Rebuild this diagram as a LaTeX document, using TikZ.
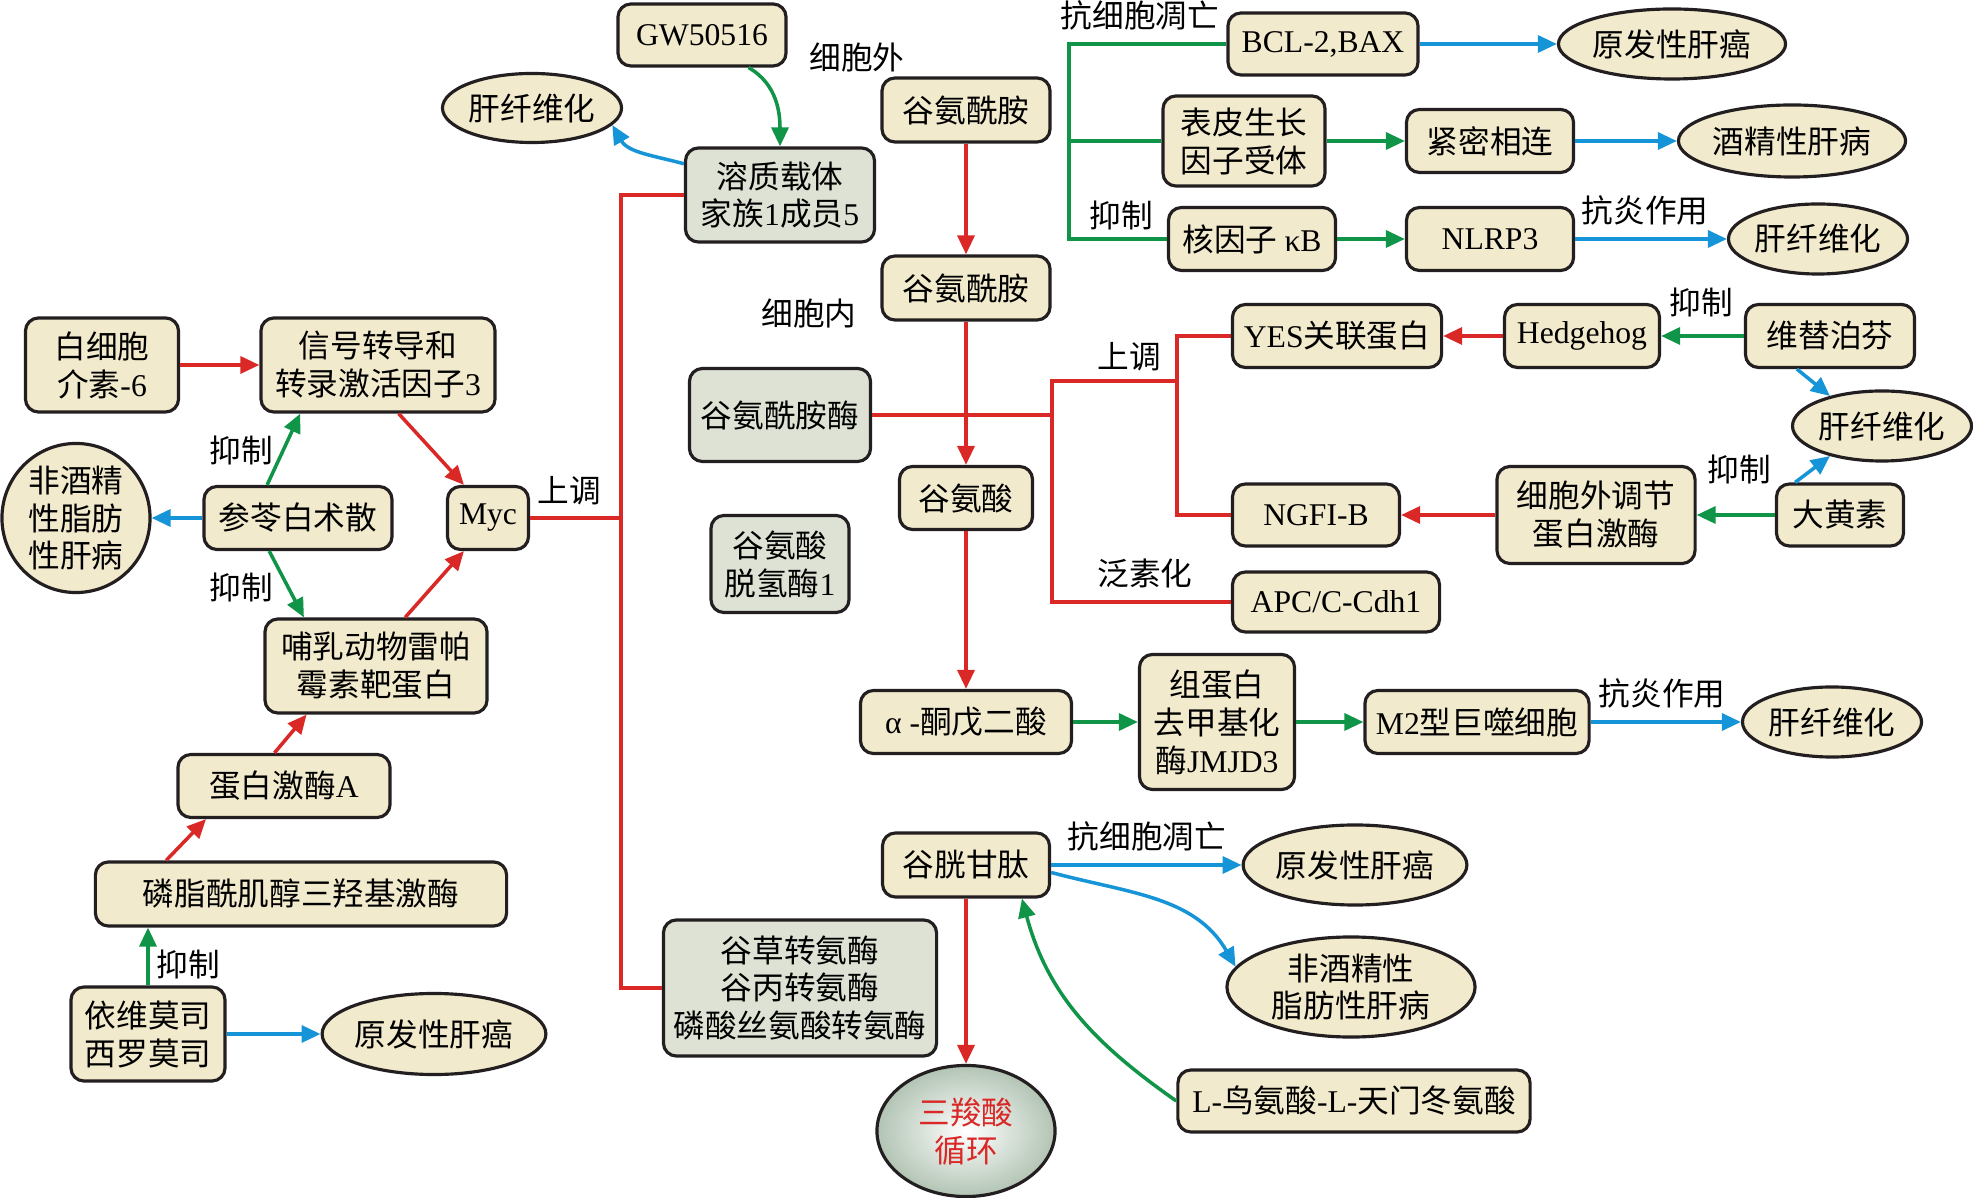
\documentclass[tikz,border=0pt]{standalone}
\usepackage{fontspec}
\setmainfont{Noto Sans CJK SC}
\newfontfamily\latinfont{Liberation Serif}
\newcommand{\tnr}[1]{{\latinfont #1}}
\usepackage{tikz, xcolor}
\usetikzlibrary{arrows.meta, shapes.geometric}

\definecolor{boxfill}{RGB}{242,234,204}
\definecolor{greyfill}{RGB}{222,226,212}
\definecolor{edgecol}{RGB}{35,31,32}
\definecolor{arrred}{RGB}{218,40,38}
\definecolor{arrgreen}{RGB}{16,148,72}
\definecolor{arrblue}{RGB}{22,148,216}
\definecolor{tcaouter}{RGB}{178,196,180}

\begin{document}
\begin{tikzpicture}
	[
		x=0.01cm, y=-0.01cm,
		font=\fontsize{9}{10.8}\selectfont,
		cbox/.style={draw=edgecol, fill=boxfill, line width=0.9pt, rounded corners=0.13cm, align=center, inner sep=0pt},
		gbox/.style={cbox, fill=greyfill},
		dis/.style={ellipse, draw=edgecol, fill=boxfill, line width=0.9pt, align=center, inner sep=0pt},
		lbl/.style={inner sep=0pt},
		flow/.style={line width=1pt, -{Triangle[length=0.19cm, width=0.17cm]}},
		redarr/.style={flow, arrred},
		greenarr/.style={flow, arrgreen},
		bluearr/.style={flow, arrblue},
		redline/.style={line width=1pt, arrred},
		greenline/.style={line width=1pt, arrgreen}
	]
	\useasboundingbox (0,0) rectangle (1973,1198);

	% Draw middle column.
	\node[cbox, minimum width=1.68cm, minimum height=0.62cm] (gw) at (702,35) {\tnr{GW50516}};
	\node[dis, minimum width=1.76cm, minimum height=0.69cm] (liverfib1) at (532,108) {肝纤维化};
	\node[gbox, minimum width=1.89cm, minimum height=0.94cm] (slc) at (780,195) {溶质载体\\家族\tnr{1}成员\tnr{5}};
	\node[cbox, minimum width=1.68cm, minimum height=0.64cm] (glnout) at (966,110) {谷氨酰胺};
	\node[cbox, minimum width=1.68cm, minimum height=0.64cm] (glnin) at (966,288) {谷氨酰胺};
	\node[gbox, minimum width=1.81cm, minimum height=0.93cm] (gls) at (780,415) {谷氨酰胺酶};
	\node[cbox, minimum width=1.33cm, minimum height=0.63cm] (glu) at (966,498) {谷氨酸};
	\node[gbox, minimum width=1.38cm, minimum height=0.97cm] (gdh) at (780,564) {谷氨酸\\脱氢酶\tnr{1}};
	\node[cbox, minimum width=2.11cm, minimum height=0.63cm] (akg) at (966,722) {\tnr{α -}酮戊二酸};
	\node[cbox, minimum width=1.55cm, minimum height=1.35cm] (jmjd) at (1217,722) {组蛋白\\去甲基化\\酶\tnr{JMJD3}};
	\node[cbox, minimum width=2.24cm, minimum height=0.63cm] (mac) at (1477,722) {\tnr{M2}型巨噬细胞};
	\node[dis, minimum width=1.75cm, minimum height=0.70cm] (liverfib4) at (1832,722) {肝纤维化};
	\node[cbox, minimum width=1.67cm, minimum height=0.64cm] (gsh) at (966,865) {谷胱甘肽};
	\node[dis, minimum width=1.98cm, minimum height=0.80cm] (hcc3) at (1355,865) {原发性肝癌};
	\node[dis, minimum width=2.48cm, minimum height=1.00cm] (nafld2) at (1351,987) {非酒精性\\脂肪性肝病};
	\node[gbox, minimum width=2.73cm, minimum height=1.36cm] (ast) at (800,988) {谷草转氨酶\\谷丙转氨酶\\磷酸丝氨酸转氨酶};
	\node[ellipse, draw=edgecol, line width=0.9pt, inner color=white, outer color=tcaouter, minimum width=1.78cm, minimum height=1.31cm, align=center, inner sep=0pt, text=arrred] (tca) at (966,1131) {三羧酸\\循环};
	\node[cbox, minimum width=3.52cm, minimum height=0.62cm] (lola) at (1354,1101) {\tnr{L-}鸟氨酸\tnr{-L-}天门冬氨酸};

	% Draw right part.
	\node[cbox, minimum width=1.90cm, minimum height=0.62cm] (bcl) at (1323,44) {\tnr{BCL-2,BAX}};
	\node[dis, minimum width=2.27cm, minimum height=0.70cm] (hcc1) at (1672,44) {原发性肝癌};
	\node[cbox, minimum width=1.62cm, minimum height=0.90cm] (egfr) at (1244,141) {表皮生长\\因子受体};
	\node[cbox, minimum width=1.67cm, minimum height=0.63cm] (tight) at (1490,141) {紧密相连};
	\node[dis, minimum width=2.27cm, minimum height=0.72cm] (ald) at (1792,141) {酒精性肝病};
	\node[cbox, minimum width=1.67cm, minimum height=0.63cm] (nfkb) at (1252,239) {核因子 \tnr{κB}};
	\node[cbox, minimum width=1.67cm, minimum height=0.63cm] (nlrp) at (1490,239) {\tnr{NLRP3}};
	\node[dis, minimum width=1.75cm, minimum height=0.70cm] (liverfib2) at (1818,239) {肝纤维化};
	\node[cbox, minimum width=2.09cm, minimum height=0.63cm] (yap) at (1337,336) {\tnr{YES}关联蛋白};
	\node[cbox, minimum width=1.55cm, minimum height=0.63cm] (hh) at (1582,336) {\tnr{Hedgehog}};
	\node[cbox, minimum width=1.69cm, minimum height=0.63cm] (vp) at (1830,336) {维替泊芬};
	\node[dis, minimum width=1.74cm, minimum height=0.70cm] (liverfib3) at (1882,426) {肝纤维化};
	\node[cbox, minimum width=1.67cm, minimum height=0.62cm] (ngfi) at (1316,515) {\tnr{NGFI-B}};
	\node[cbox, minimum width=1.98cm, minimum height=0.97cm] (erk) at (1596,515) {细胞外调节\\蛋白激酶};
	\node[cbox, minimum width=1.27cm, minimum height=0.62cm] (rhein) at (1840,515) {大黄素};
	\node[cbox, minimum width=2.07cm, minimum height=0.60cm] (apc) at (1336,602) {\tnr{APC/C-Cdh1}};

	% Draw left part.
	\node[cbox, minimum width=1.53cm, minimum height=0.94cm] (il6) at (102,365) {白细胞\\介素\tnr{-6}};
	\node[cbox, minimum width=2.34cm, minimum height=0.94cm] (stat3) at (378,365) {信号转导和\\转录激活因子\tnr{3}};
	\node[dis, minimum width=1.48cm, minimum height=1.49cm] (nafld1) at (76,518) {非酒精\\性脂肪\\性肝病};
	\node[cbox, minimum width=1.88cm, minimum height=0.63cm] (sljzs) at (298,518) {参苓白术散};
	\node[cbox, minimum width=0.81cm, minimum height=0.63cm] (myc) at (488,518) {\tnr{Myc}};
	\node[cbox, minimum width=2.22cm, minimum height=0.94cm] (mtor) at (376,666) {哺乳动物雷帕\\霉素靶蛋白};
	\node[cbox, minimum width=2.12cm, minimum height=0.63cm] (pka) at (284,786) {蛋白激酶\tnr{A}};
	\node[cbox, minimum width=4.11cm, minimum height=0.64cm] (pi3k) at (301,894) {磷脂酰肌醇三羟基激酶};
	\node[cbox, minimum width=1.54cm, minimum height=0.94cm] (evero) at (148,1034) {依维莫司\\西罗莫司};
	\node[dis, minimum width=1.98cm, minimum height=0.81cm] (hcc2) at (434,1034) {原发性肝癌};

	% Draw branch lines.
	\coordinate (rt) at (621,196);
	\draw[redline] (slc.west) -- (slc.west -| rt) |- (ast.west);
	\draw[redline] (myc) -- (myc -| rt);
	\coordinate (rj1) at (1052,381);
	\coordinate (rj2) at (1177,381);
	\draw[redline] (gls.east) -- (gls.east -| rj1);
	\draw[redline] (rj2) -- (rj1) |- (apc.west);
	\draw[redline] (yap.west) -| (rj2) |- (ngfi.west);
	\coordinate (gb) at (1069,44);
	\draw[greenline] (bcl.west) -- (gb) |- (nfkb.west);
	\draw[greenline] (egfr.west) -- (egfr.west -| gb);

	% Draw arrows.
	\draw[redarr] (il6) -- (stat3);
	\draw[redarr] (stat3.-67) -- (myc.126);
	\draw[greenarr] (sljzs.133) -- (stat3.-148);
	\draw[greenarr] (sljzs.-131) -- (mtor.146);
	\draw[bluearr] (sljzs) -- (nafld1);
	\draw[redarr] (mtor.59) -- (myc.-126);
	\draw[redarr] (pka.106) -- (mtor.-145);
	\draw[redarr] (pi3k.166) -- (pka.-157);
	\draw[greenarr] (evero.north) -- (evero.north |- pi3k.south);
	\draw[bluearr] (evero) -- (hcc2);
	\draw[greenarr] (gw.-35) to[out=-30, in=90] (slc.north);
	\draw[bluearr] (slc.162) to[out=165, in=-60] (liverfib1.-12);
	\draw[redarr] (glnout) -- (glnin);
	\draw[redarr] (glnin) -- (glu);
	\draw[redarr] (glu) -- (akg);
	\draw[greenarr] (akg) -- (jmjd);
	\draw[greenarr] (jmjd) -- (mac);
	\draw[bluearr] (mac) -- (liverfib4);
	\draw[redarr] (gsh) -- (tca);
	\draw[bluearr] (gsh) -- (hcc3);
	\draw[bluearr] (gsh.-5) to[out=-15, in=120] (nafld2.170);
	\draw[greenarr] (lola.west) to[out=145, in=-75] (gsh.-31);
	\draw[bluearr] (bcl) -- (hcc1);
	\draw[greenarr] (egfr) -- (tight);
	\draw[bluearr] (tight) -- (ald);
	\draw[greenarr] (nfkb) -- (nlrp);
	\draw[bluearr] (nlrp) -- (liverfib2);
	\draw[redarr] (hh) -- (yap);
	\draw[greenarr] (vp) -- (hh);
	\draw[bluearr] (vp.-135) -- (liverfib3.150);
	\draw[bluearr] (rhein.144) -- (liverfib3.-150);
	\draw[redarr] (erk) -- (ngfi);
	\draw[greenarr] (rhein) -- (erk);

	% Draw labels.
	\node[lbl] (lup1) at (569,491) {上调};
	\node[lbl] (linh1) at (241,450) {抑制};
	\node[lbl] (linh2) at (241,587) {抑制};
	\node[lbl] (linh3) at (188,964) {抑制};
	\node[lbl] (lout) at (857,57) {细胞外};
	\node[lbl] (lin) at (809,313) {细胞内};
	\node[lbl] (lapo1) at (1140,15) {抗细胞凋亡};
	\node[lbl] (linh4) at (1121,215) {抑制};
	\node[lbl] (lup2) at (1129,357) {上调};
	\node[lbl] (lub) at (1145,573) {泛素化};
	\node[lbl] (lanti1) at (1645,210) {抗炎作用};
	\node[lbl] (linh5) at (1701,302) {抑制};
	\node[lbl] (linh6) at (1739,469) {抑制};
	\node[lbl] (lanti2) at (1662,693) {抗炎作用};
	\node[lbl] (lapo2) at (1147,836) {抗细胞凋亡};
\end{tikzpicture}
\end{document}
